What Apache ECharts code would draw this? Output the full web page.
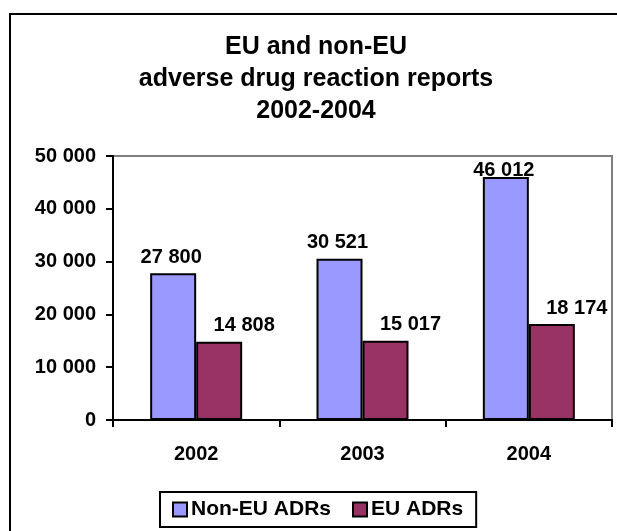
<!DOCTYPE html>
<html>
<head>
<meta charset="utf-8">
<script src="https://cdn.jsdelivr.net/npm/echarts@6/dist/echarts.min.js"></script>
<style>
html,body{margin:0;padding:0;background:#fff;}
#c{width:617px;height:531px;}
</style>
</head>
<body>
<div id="c"></div>
<script>
var categories = ['2002', '2003', '2004'];
var nonEU = [27800, 30521, 46012];
var eu = [14808, 15017, 18174];
var seriesNames = ['Non-EU ADRs', 'EU ADRs'];
var titleText = 'EU and non-EU\nadverse drug reaction reports\n2002-2004';

function fmt(v) {
  return String(v).replace(/\B(?=(\d{3})+(?!\d))/g, ' ');
}
var FONT = '"Liberation Sans", Arial, sans-serif';

var chart = echarts.init(document.getElementById('c'), null, {renderer: 'canvas'});
chart.setOption({
  animation: false,
  backgroundColor: '#fff',
  graphic: [{
    type: 'rect',
    shape: {x: 10, y: 14, width: 700, height: 600},
    style: {fill: null, stroke: '#000', lineWidth: 2},
    z: 0, silent: true
  }],
  title: {
    text: titleText,
    left: 311,
    top: 26,
    textAlign: 'center',
    textStyle: {fontFamily: FONT, fontWeight: 'bold', fontSize: 25, lineHeight: 32, color: '#000'}
  },
  legend: {
    data: seriesNames,
    left: 160,
    top: 492,
    itemWidth: 14,
    itemHeight: 14,
    itemGap: 21,
    padding: [7, 13, 7, 12],
    borderColor: '#000',
    borderWidth: 2,
    icon: 'rect',
    itemStyle: {borderColor: '#000', borderWidth: 2},
    textStyle: {fontFamily: FONT, fontWeight: 'bold', fontSize: 21, color: '#000', padding: [0, 0, 0, -1]}
  },
  grid: {
    left: 113, top: 156, right: 5, bottom: 111,
    show: true, borderColor: '#808080', borderWidth: 2, backgroundColor: '#fff'
  },
  xAxis: {
    type: 'category',
    data: categories,
    axisLine: {lineStyle: {color: '#000', width: 2}},
    axisTick: {show: true, length: 7, lineStyle: {color: '#000', width: 2}},
    axisLabel: {margin: 24, fontFamily: FONT, fontWeight: 'bold', fontSize: 20, color: '#000'}
  },
  yAxis: {
    type: 'value',
    min: 0, max: 50000, interval: 10000,
    axisLine: {show: true, lineStyle: {color: '#000', width: 2}},
    axisTick: {show: true, length: 7, lineStyle: {color: '#000', width: 2}},
    splitLine: {show: false},
    axisLabel: {margin: 17, fontFamily: FONT, fontWeight: 'bold', fontSize: 20, color: '#000', formatter: fmt}
  },
  series: [{
    name: seriesNames[0],
    type: 'bar',
    data: nonEU.map(function (v, i) {
      return i === 2 ? {value: v, label: {distance: -3}} : v;
    }),
    barWidth: 46,
    barGap: '0%',
    itemStyle: {color: '#9999FF', borderColor: '#000', borderWidth: 2},
    label: {show: true, position: 'top', distance: 6, offset: [-2, 0], formatter: function (p) { return fmt(p.value); },
      fontFamily: FONT, fontWeight: 'bold', fontSize: 20, color: '#000'}
  }, {
    name: seriesNames[1],
    type: 'bar',
    data: eu,
    barWidth: 46,
    itemStyle: {color: '#993366', borderColor: '#000', borderWidth: 2},
    label: {show: true, position: 'top', distance: 6, offset: [25, 0], formatter: function (p) { return fmt(p.value); },
      fontFamily: FONT, fontWeight: 'bold', fontSize: 20, color: '#000'}
  }]
});
</script>
</body>
</html>
